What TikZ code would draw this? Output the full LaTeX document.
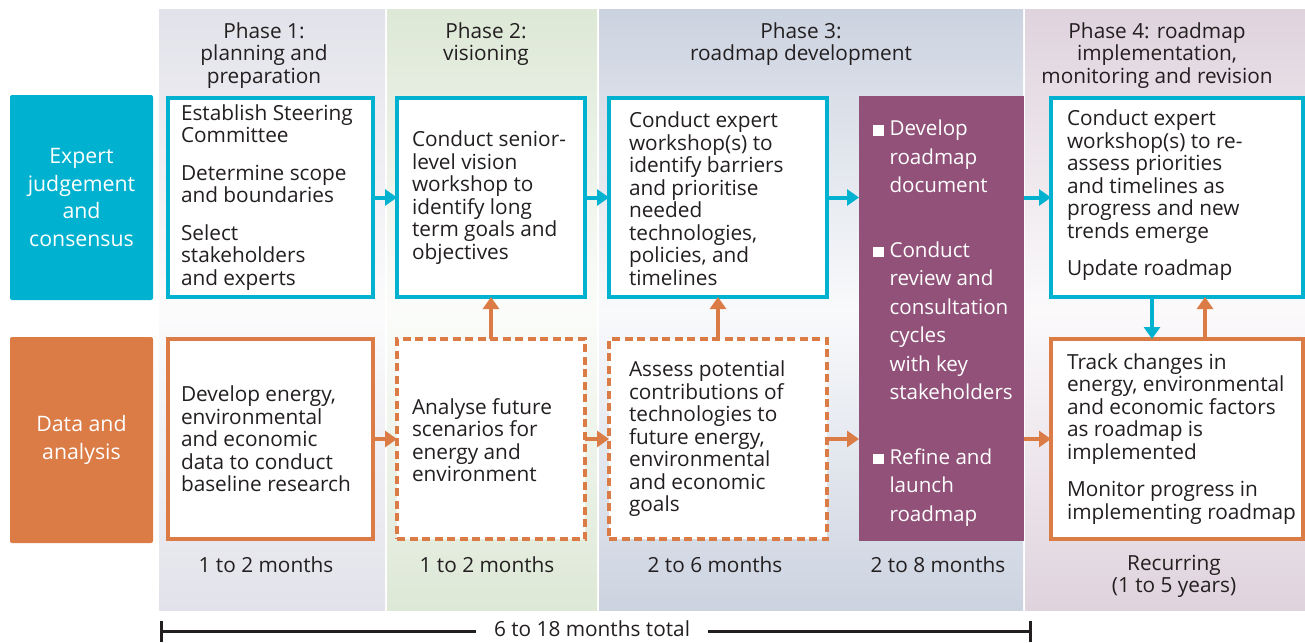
\documentclass[tikz,border=0pt]{standalone}
\usepackage{fontspec}
\setmainfont{Open Sans}
\usetikzlibrary{arrows.meta,calc}
\definecolor{cy}{HTML}{00B2CF}
\definecolor{orC}{HTML}{DB7B45}
\definecolor{pu}{HTML}{915179}
\definecolor{tx}{HTML}{231F20}
\definecolor{ph1}{HTML}{E2E2EA}
\definecolor{ph2}{HTML}{DDE8D6}
\definecolor{ph3}{HTML}{CCD3E0}
\definecolor{ph4}{HTML}{DFD3DD}
\newcommand\fsz{\fontsize{20.8}{22.5}\selectfont}
\begin{document}
\begin{tikzpicture}[x=1pt,y=-1pt,
  every node/.style={inner sep=0pt, outer sep=0pt},
  txt/.style={font=\fsz, text=tx, align=left},
  ctxt/.style={font=\fsz, text=tx, align=center},
  cbox/.style={draw=cy, line width=4pt, fill=white},
  obox/.style={draw=orC, line width=4pt, fill=white},
  dbox/.style={obox, dash pattern=on 8pt off 4.5pt},
  carr/.style={draw=cy, line width=4pt, -{Triangle[width=16pt,length=12pt]}},
  oarr/.style={draw=orC, line width=4pt, -{Triangle[width=16pt,length=12pt]}},
  lab/.style={rounded corners=2pt, minimum width=143pt, text=white, align=center, font=\fontsize{21.3}{27.7}\selectfont},
  bar/.style={draw=tx, line width=3pt}
]
\useasboundingbox (0,0) rectangle (1305,642);
% phase bands
\shade[top color=ph1, bottom color=ph1, middle color=ph1!12!white] (159,10) rectangle (385,610);
\shade[top color=ph2, bottom color=ph2, middle color=ph2!12!white] (387,10) rectangle (597,610);
\shade[top color=ph3, bottom color=ph3, middle color=ph3!12!white] (599,10) rectangle (1023,610);
\shade[top color=ph4, bottom color=ph4, middle color=ph4!12!white] (1025,10) rectangle (1305,610);
% headers
\node[ctxt, anchor=north] (h1) at (264,22.5) {Phase 1:\\planning and\\preparation};
\node[ctxt, anchor=north] (h2) at (486,22.5) {Phase 2:\\visioning};
\node[ctxt, anchor=north] (h3) at (801,22.5) {Phase 3:\\roadmap development};
\node[ctxt, anchor=north] (h4) at (1157,22.5) {Phase 4: roadmap\\implementation,\\monitoring and revision};
% row labels
\node[lab, fill=cy, minimum height=205pt] (ej) at (81.5,197.5) {Expert\\judgement\\and\\consensus};
\node[lab, fill=orC, minimum height=206pt] (da) at (81.5,440) {Data and\\analysis};
% boxes
\node[cbox, minimum width=205pt, minimum height=199pt] (b1) at (270.5,197.5) {};
\node[cbox, minimum width=188pt, minimum height=199pt] (b2) at (491,197.5) {};
\node[cbox, minimum width=218pt, minimum height=199pt] (b3) at (718,197.5) {};
\node[cbox, minimum width=252pt, minimum height=199pt] (b4) at (1177,197.5) {};
\node[obox, minimum width=205pt, minimum height=200pt] (c1) at (270.5,439) {};
\node[dbox, minimum width=188pt, minimum height=200pt] (c2) at (491,439) {};
\node[dbox, minimum width=218pt, minimum height=200pt] (c3) at (718,439) {};
\node[obox, minimum width=252pt, minimum height=200pt] (c4) at (1177,439) {};
\node[fill=pu, minimum width=165pt, minimum height=445pt] (p) at (941.5,318.5) {};
% arrows
\draw[carr] (b1) -- (b2);
\draw[carr] (b2) -- (b3);
\draw[carr] (b3.east) -- (b3.east -| p.west);
\draw[carr] (b4.west -| p.east) -- (b4.west);
\draw[oarr] (c1) -- (c2);
\draw[oarr] (c2) -- (c3);
\draw[oarr] (c3.east) -- (c3.east -| p.west);
\draw[oarr] (c4.west -| p.east) -- (c4.west);
\draw[oarr] (c2) -- (b2);
\draw[oarr] (c3) -- (b3);
\draw[carr] ($(b4.south)+(-25,0)$) -- ($(c4.north)+(-25,0)$);
\draw[oarr] ($(c4.north)+(28,0)$) -- ($(b4.south)+(28,0)$);
% box texts
\node[txt, anchor=west] (b1t) at ($(b1.west)+(13,0)$) {Establish Steering\\Committee\\[15pt]Determine scope\\and boundaries\\[15pt]Select\\stakeholders\\and experts};
\node[txt, anchor=west] (b2t) at ($(b2.west)+(15,0)$) {Conduct senior-\\level vision\\workshop to\\identify long\\term goals and\\objectives};
\node[txt, anchor=west] (b3t) at ($(b3.west)+(20,1)$) {Conduct expert\\workshop(s) to\\identify barriers\\and prioritise\\needed\\technologies,\\policies, and\\timelines};
\node[txt, anchor=west] (b4t) at ($(b4.west)+(16,-2)$) {Conduct expert\\workshop(s) to re-\\assess priorities\\and timelines as\\progress and new\\trends emerge\\[15pt]Update roadmap};
\node[txt, anchor=west] (c1t) at ($(c1.west)+(13,0)$) {Develop energy,\\environmental\\and economic\\data to conduct\\baseline research};
\node[txt, anchor=west] (c2t) at ($(c2.west)+(15,1)$) {Analyse future\\scenarios for\\energy and\\environment};
\node[txt, anchor=west] (c3t) at ($(c3.west)+(20,0)$) {Assess potential\\contributions of\\technologies to\\future energy,\\environmental\\and economic\\goals};
\node[txt, anchor=west] (c4t) at ($(c4.west)+(16,0)$) {Track changes in\\energy, environmental\\and economic factors\\as roadmap is\\implemented\\[15pt]Monitor progress in\\implementing roadmap};
\node[anchor=west, text=white, align=left, font=\fontsize{20.6}{28.5}\selectfont] (pt) at (873,323) {\rule{10.5pt}{10.5pt}\hspace{6pt}Develop\\\hspace*{16.5pt}roadmap\\\hspace*{16.5pt}document\\[36pt]\rule{10.5pt}{10.5pt}\hspace{6pt}Conduct\\\hspace*{16.5pt}review and\\\hspace*{16.5pt}consultation\\\hspace*{16.5pt}cycles\\\hspace*{16.5pt}with key\\\hspace*{16.5pt}stakeholders\\[36pt]\rule{10.5pt}{10.5pt}\hspace{6pt}Refine and\\\hspace*{16.5pt}launch\\\hspace*{16.5pt}roadmap};
% durations
\node[ctxt] (d1) at (266,565) {1 to 2 months};
\node[ctxt] (d2) at (487,565) {1 to 2 months};
\node[ctxt] (d3) at (715,565) {2 to 6 months};
\node[ctxt] (d4) at (938,565) {2 to 8 months};
\node[ctxt] (d5) at (1174,576.5) {Recurring\\(1 to 5 years)};
% total bracket
\coordinate (bl) at (161,631);
\coordinate (br) at (1030,631);
\node[ctxt, inner xsep=18pt] (tot) at (592,629) {6 to 18 months total};
\draw[bar] (bl) -- (bl -| tot.west);
\draw[bar] (br -| tot.east) -- (br);
\draw[bar] ($(bl)+(0,-10)$) -- ($(bl)+(0,11)$);
\draw[bar] ($(br)+(0,-10)$) -- ($(br)+(0,11)$);
\end{tikzpicture}
\end{document}
